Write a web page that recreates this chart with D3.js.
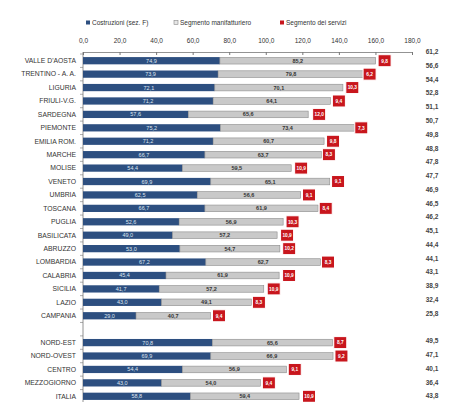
<!DOCTYPE html>
<html>
<head>
<meta charset="utf-8">
<script src="https://cdn.jsdelivr.net/npm/d3@7"></script>
<style>
  body { margin: 0; background: #fff; }
  text { font-family: "Liberation Sans Narrow", "Liberation Sans", Arial, sans-serif; }
</style>
</head>
<body>
<svg id="chart"></svg>
<script>

var regioni = ["VALLE D'AOSTA", "TRENTINO - A. A.", "LIGURIA", "FRIULI-V.G.", "SARDEGNA",
    "PIEMONTE", "EMILIA ROM.", "MARCHE", "MOLISE", "VENETO", "UMBRIA", "TOSCANA",
    "PUGLIA", "BASILICATA", "ABRUZZO", "LOMBARDIA", "CALABRIA", "SICILIA", "LAZIO",
    "CAMPANIA", "", "NORD-EST", "NORD-OVEST", "CENTRO", "MEZZOGIORNO", "ITALIA"]

var costruzioni = [74.9, 73.9, 72.1, 71.2, 57.6, 75.2, 71.2, 66.7, 54.4, 69.9, 62.5, 66.7,
    52.6, 49.0, 53.0, 67.2, 45.4, 41.7, 43.0, 29.0, null, 70.8, 69.9, 54.4, 43.0, 58.8]

var manifatturiero = [85.2, 79.8, 70.1, 64.1, 65.6, 73.4, 60.7, 63.7, 59.5, 65.1, 56.6, 61.9,
    56.9, 57.2, 54.7, 62.7, 61.9, 57.2, 49.1, 40.7, null, 65.6, 66.9, 56.9, 54.0, 59.4]

var servizi = [9.8, 6.2, 10.3, 9.4, 12.0, 7.3, 9.8, 8.3, 10.9, 9.1, 9.1, 8.4,
    10.3, 10.9, 10.2, 8.3, 10.9, 10.9, 8.3, 9.4, null, 8.7, 9.2, 9.1, 9.4, 10.9]

var colonnaDestra = [61.2, 56.6, 54.4, 52.8, 51.1, 50.7, 49.8, 48.8, 47.8, 47.7, 46.9, 46.5,
    46.2, 45.1, 44.4, 44.1, 43.1, 38.9, 32.4, 25.8, null, 49.5, 47.1, 40.1, 36.4, 43.8]

var xTicks = [0, 20, 40, 60, 80, 100, 120, 140, 160, 180]

var legendLabels = ["Costruzioni (sez. F)", "Segmento manifatturiero", "Segmento dei servizi"]

var blu = "#2d4f80"
var grigio = "#c9c9c9"
var rosso = "#c8161d"

var fmt = function(v) { return d3.format(".1f")(v).replace(".", ",") }

var svg = d3.select("#chart")
    .attr("width", 450)
    .attr("height", 402)

var keys = regioni.map(function(d, i) { return i })

var xScale = d3.scaleLinear()
    .domain([0, 180])
    .range([83, 412])

var yScale = d3.scaleBand()
    .domain(keys)
    .range([54, 403])
    .paddingInner(0.46)
    .paddingOuter(0.23)

var yRight = d3.scaleBand()
    .domain(keys)
    .range([45, 403])

// legend
var legendX = [86, 174, 280]
var leg = svg.append("g").attr("id", "legend")
legendLabels.forEach(function(l, i) {
    var g = leg.append("g").attr("transform", "translate(" + legendX[i] + ",23)")
    g.append("rect")
        .attr("x", 0).attr("y", -2.5)
        .attr("width", 4).attr("height", 4)
        .attr("fill", [blu, "#e6e6e6", rosso][i])
        .attr("stroke", i == 1 ? "#888" : "none")
        .attr("stroke-width", 0.6)
    g.append("text")
        .attr("x", 6).attr("y", 2)
        .attr("font-size", 6.5)
        .attr("fill", "#333")
        .text(l)
})

// top axis
var x_axis = d3.axisTop()
    .scale(xScale)
    .tickValues(xTicks)
    .tickSize(-3)
    .tickPadding(9)
    .tickFormat(fmt)

var gx = svg.append("g")
    .attr("id", "xaxis")
    .attr("transform", "translate(0,52)")
    .call(x_axis)
gx.select(".domain").attr("stroke", "#777").attr("stroke-width", 0.8)
gx.selectAll(".tick line").attr("stroke", "#777")
gx.selectAll(".tick text").attr("font-size", 6.5).attr("fill", "#333")
    .attr("font-family", "Liberation Sans Narrow, Liberation Sans, Arial")

// left axis line with ticks between categories
svg.append("line")
    .attr("x1", xScale(0)).attr("x2", xScale(0))
    .attr("y1", 52).attr("y2", 402)
    .attr("stroke", "#777").attr("stroke-width", 0.8)

svg.append("g").selectAll("line.sep")
    .data(keys)
    .enter().append("line")
    .attr("x1", xScale(0) - 3).attr("x2", xScale(0))
    .attr("y1", function(d) { return yScale(d) - yScale.step() * yScale.paddingInner() / 2 })
    .attr("y2", function(d) { return yScale(d) - yScale.step() * yScale.paddingInner() / 2 })
    .attr("stroke", "#777").attr("stroke-width", 0.6)

// category labels
svg.append("g").selectAll("text.cat")
    .data(keys)
    .enter().append("text")
    .attr("x", 76)
    .attr("y", function(d) { return yScale(d) + yScale.bandwidth() / 2 + 2.3 })
    .attr("text-anchor", "end")
    .attr("font-size", 6.8)
    .attr("fill", "#333")
    .text(function(d) { return regioni[d] })

var rows = keys.filter(function(i) { return costruzioni[i] !== null })

// blue segment
svg.append("g").selectAll("rect.blu")
    .data(rows)
    .enter().append("rect")
    .attr("x", xScale(0))
    .attr("y", function(d) { return yScale(d) })
    .attr("width", function(d) { return xScale(costruzioni[d]) - xScale(0) })
    .attr("height", yScale.bandwidth())
    .attr("fill", blu)

// gray segment
svg.append("g").selectAll("rect.gr")
    .data(rows)
    .enter().append("rect")
    .attr("x", function(d) { return xScale(costruzioni[d]) })
    .attr("y", function(d) { return yScale(d) + 0.3 })
    .attr("width", function(d) { return xScale(manifatturiero[d]) - xScale(0) })
    .attr("height", yScale.bandwidth() - 0.6)
    .attr("fill", grigio)
    .attr("stroke", "#8c8c8c")
    .attr("stroke-width", 0.6)

// value labels
svg.append("g").selectAll("text.vb")
    .data(rows)
    .enter().append("text")
    .attr("x", function(d) { return xScale(costruzioni[d] / 2) })
    .attr("y", function(d) { return yScale(d) + yScale.bandwidth() / 2 + 2 })
    .attr("text-anchor", "middle")
    .attr("font-size", 5.5)
    .attr("fill", "#dfe6f0")
    .text(function(d) { return fmt(costruzioni[d]) })

svg.append("g").selectAll("text.vg")
    .data(rows)
    .enter().append("text")
    .attr("x", function(d) { return xScale(costruzioni[d] + manifatturiero[d] / 2) })
    .attr("y", function(d) { return yScale(d) + yScale.bandwidth() / 2 + 2 })
    .attr("text-anchor", "middle")
    .attr("font-size", 5.5)
    .attr("font-weight", "bold")
    .attr("fill", "#333")
    .text(function(d) { return fmt(manifatturiero[d]) })

// services segment drawn as a labelled red box centred on its value
var boxes = svg.append("g").selectAll("g.box")
    .data(rows)
    .enter().append("g")
    .attr("transform", function(d) {
        var cx = xScale(costruzioni[d] + manifatturiero[d] + servizi[d] / 2)
        var cy = yScale(d) + yScale.bandwidth() / 2
        return "translate(" + cx + "," + cy + ")"
    })
boxes.append("rect")
    .attr("x", -6.5).attr("y", -6)
    .attr("width", 13).attr("height", 12)
    .attr("fill", rosso)
    .attr("stroke", "#fff")
    .attr("stroke-width", 1)
boxes.append("text")
    .attr("y", 1.8)
    .attr("text-anchor", "middle")
    .attr("font-size", 4.8)
    .attr("font-weight", "bold")
    .attr("fill", "#fff")
    .text(function(d) { return fmt(servizi[d]) })

// right column
svg.append("g").selectAll("text.rc")
    .data(rows)
    .enter().append("text")
    .attr("x", 432)
    .attr("y", function(d) { return yRight(d) + yRight.bandwidth() / 2 + 2.3 })
    .attr("text-anchor", "middle")
    .attr("font-size", 6.5)
    .attr("font-weight", "bold")
    .attr("fill", "#444")
    .text(function(d) { return fmt(colonnaDestra[d]) })

</script>
</body>
</html>
